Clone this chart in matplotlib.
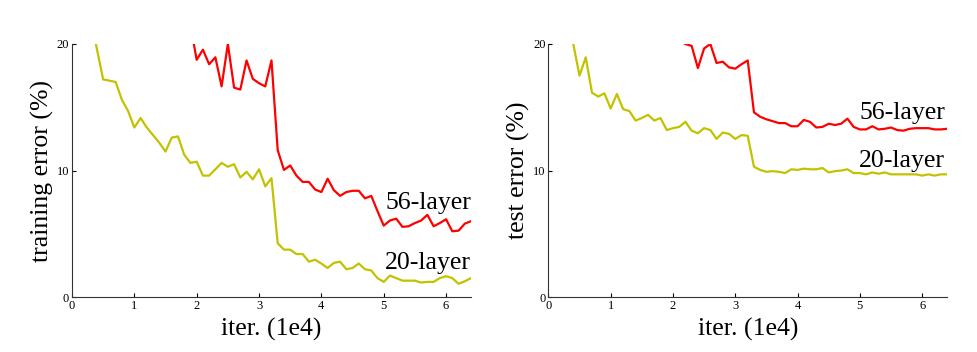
import numpy as np
import matplotlib
matplotlib.use('Agg')
from matplotlib import pyplot as plt

plt.rcParams['font.family'] = ['Liberation Serif', 'DejaVu Serif']

# iterations (1e4), one point every 1000 iter
x20 = np.round(np.arange(0.3, 6.45, 0.1), 1)
x56_train = np.round(np.arange(1.9, 6.45, 0.1), 1)
x56_test = np.round(np.arange(2.1, 6.45, 0.1), 1)

train_20 = [22.0, 19.6, 17.2, 17.1, 17.0, 15.6, 14.7, 13.4, 14.15, 13.4, 12.8, 12.2,
            11.5, 12.6, 12.7, 11.25, 10.6, 10.7, 9.6, 9.6, 10.1, 10.6, 10.3, 10.5,
            9.45, 9.9, 9.3, 10.1, 8.75, 9.4, 4.25, 3.75, 3.75, 3.4, 3.4, 2.8,
            2.95, 2.65, 2.3, 2.7, 2.8, 2.2, 2.3, 2.65, 2.2, 2.1, 1.5, 1.2,
            1.7, 1.5, 1.3, 1.3, 1.3, 1.15, 1.2, 1.2, 1.5, 1.65, 1.5, 1.05,
            1.25, 1.5]
train_56 = [21.5, 18.75, 19.55, 18.4, 18.95, 16.65, 20.0, 16.55, 16.4, 18.7, 17.25,
            16.9, 16.65, 18.7, 11.6, 10.05, 10.4, 9.6, 9.1, 9.1, 8.5, 8.3,
            9.35, 8.45, 8.0, 8.3, 8.4, 8.4, 7.8, 8.0, 6.8, 5.65, 6.05, 6.2,
            5.55, 5.6, 5.85, 6.05, 6.5, 5.6, 5.85, 6.15, 5.2, 5.25, 5.8, 6.0]

test_20 = [21.0, 20.0, 17.5, 18.95, 16.15, 15.85, 16.1, 14.9, 16.05, 14.85, 14.7, 13.95,
           14.15, 14.4, 13.95, 14.15, 13.2, 13.35, 13.45, 13.85, 13.15, 12.95, 13.35,
           13.2, 12.5, 13.0, 12.9, 12.5, 12.8, 12.75, 10.3, 10.05, 9.9, 9.95, 9.9,
           9.8, 10.1, 10.05, 10.15, 10.1, 10.1, 10.2, 9.85, 9.95, 10.0, 10.1, 9.8,
           9.8, 9.7, 9.85, 9.75, 9.85, 9.7, 9.7, 9.7, 9.7, 9.7, 9.6, 9.7, 9.6,
           9.7, 9.7]
test_56 = [20.3, 20.0, 19.85, 18.1, 19.65, 20.0, 18.5, 18.6, 18.15, 18.05, 18.4, 18.7,
           14.6, 14.25, 14.05, 13.9, 13.75, 13.75, 13.5, 13.5, 14.0, 13.85, 13.4,
           13.45, 13.7, 13.6, 13.7, 14.1, 13.45, 13.25, 13.25, 13.5, 13.25, 13.3,
           13.4, 13.2, 13.15, 13.3, 13.35, 13.35, 13.35, 13.25, 13.25, 13.3]

red = '#ff0000'
yellow = '#c2c200'

fig = plt.figure(figsize=(9.78, 3.52), dpi=100)
ax1 = fig.add_axes([0.0736, 0.156, 0.408, 0.719])
ax2 = fig.add_axes([0.5607, 0.156, 0.4077, 0.719])

panels = [
    (ax1, train_20, x56_train, train_56, 'training error (%)', (7.0, 2.2), 6.4),
    (ax2, test_20, x56_test, test_56, 'test error (%)', (14.1, 10.3), 6.37),
]

for ax, y20, xs56, y56, ylab, (ty56, ty20), tx in panels:
    ax.plot(x20, y20, color=yellow, linewidth=1.6)
    ax.plot(xs56, y56, color=red, linewidth=1.6)
    ax.set_xlim(0, 6.4)
    ax.set_ylim(0, 20)
    ax.set_xticks([0, 1, 2, 3, 4, 5, 6])
    ax.set_yticks([0, 10, 20])
    ax.tick_params(direction='in', length=3, width=0.8, labelsize=9, pad=2)
    ax.spines['top'].set_visible(False)
    ax.spines['right'].set_visible(False)
    for s in ['left', 'bottom']:
        ax.spines[s].set_linewidth(0.8)
        ax.spines[s].set_color('#333333')
    ax.set_xlabel('iter. (1e4)', fontsize=18.5, labelpad=4)
    ax.set_ylabel(ylab, fontsize=18.5, labelpad=2)
    ax.text(tx, ty56, '56-layer', fontsize=18.5, ha='right', va='baseline')
    ax.text(tx, ty20, '20-layer', fontsize=18.5, ha='right', va='baseline')

fig.savefig('out.png', dpi=100)
